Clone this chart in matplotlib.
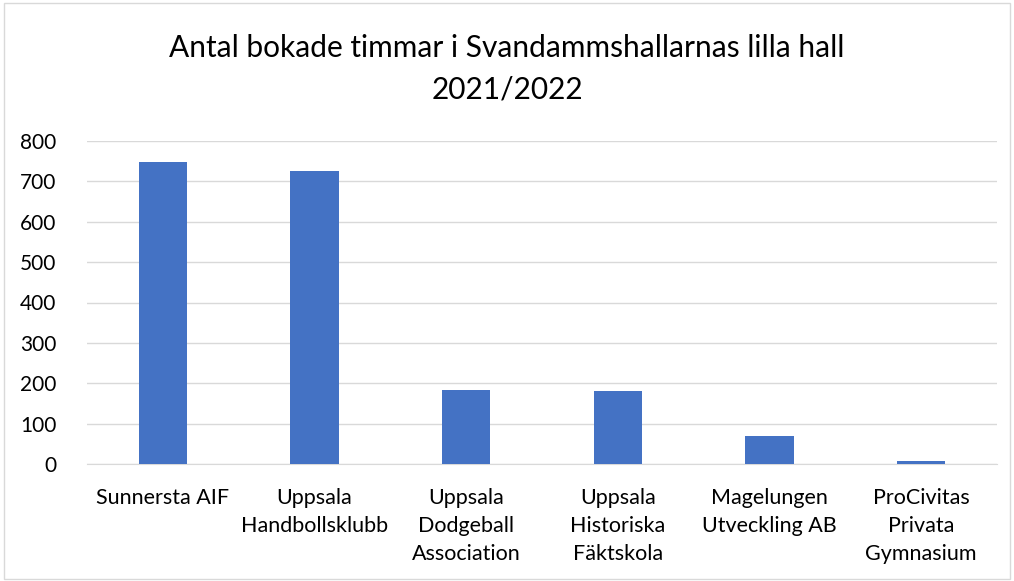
import matplotlib.pyplot as plt
from matplotlib.patches import Rectangle

plt.rcParams['font.family'] = ['Lato', 'DejaVu Sans']

categories = ["Sunnersta AIF", "Uppsala\nHandbollsklubb", "Uppsala\nDodgeball\nAssociation",
              "Uppsala\nHistoriska\nFäktskola", "Magelungen\nUtveckling AB", "ProCivitas\nPrivata\nGymnasium"]
hours = [747, 725, 183, 180, 69, 8]
yticks = [0, 100, 200, 300, 400, 500, 600, 700, 800]

fig = plt.figure(figsize=(10.14, 5.81), dpi=100)
ax = fig.add_axes([87/1014, 1 - 464/581, 910/1014, 323/581])

x = range(len(categories))
ax.bar(x, hours, width=0.32, color='#4472c4', zorder=3)

ax.set_xlim(-0.5, len(categories) - 0.5)
ax.set_ylim(0, 800)
ax.set_yticks(yticks)
ax.set_xticks(list(x))
ax.set_xticklabels(categories, fontsize=15.5, linespacing=1.5)
ax.tick_params(axis='y', labelsize=15, length=0, pad=22)
ax.tick_params(axis='x', length=0, pad=17)
ax.grid(axis='y', color='#d9d9d9', linewidth=1, zorder=0)
for s in ['top', 'right', 'left']:
    ax.spines[s].set_visible(False)
ax.spines['bottom'].set_color('#d9d9d9')

fig.text(0.5, 1 - 48/581, "Antal bokade timmar i Svandammshallarnas lilla hall",
         ha='center', va='center', fontsize=21.5)
fig.text(0.5, 1 - 90/581, "2021/2022", ha='center', va='center', fontsize=21.5)

fig.patches.append(Rectangle((0.004, 0.004), 0.992, 0.99, transform=fig.transFigure,
                             fill=False, edgecolor='#d9d9d9', linewidth=1))

fig.savefig("out.png", dpi=100)
